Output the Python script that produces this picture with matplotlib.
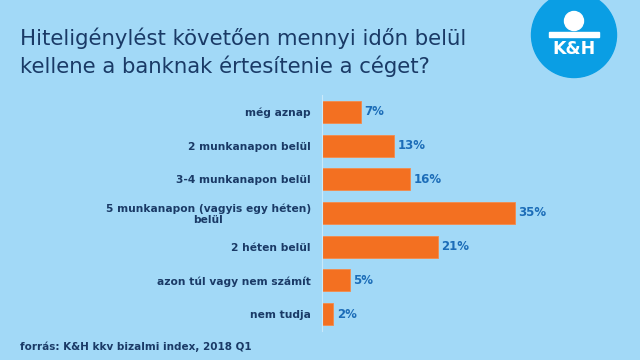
import matplotlib.pyplot as plt
from matplotlib.patches import Circle, Rectangle

categories = ['még aznap', '2 munkanapon belül', '3-4 munkanapon belül',
              '5 munkanapon (vagyis egy héten)\nbelül', '2 héten belül',
              'azon túl vagy nem számít', 'nem tudja']
values = [7, 13, 16, 35, 21, 5, 2]

bg = '#A2D9F7'
navy = '#1A3A66'
orange = '#F37021'
blue = '#1C6DB8'

W, H = 640, 360
fig = plt.figure(figsize=(6.4, 3.6), dpi=100, facecolor=bg)

# title
fig.text(20 / W, 1 - 38 / H, 'Hiteligénylést követően mennyi időn belül',
         fontsize=15.3, color=navy, va='center', ha='left')
fig.text(20 / W, 1 - 66 / H, 'kellene a banknak értesítenie a céget?',
         fontsize=15.3, color=navy, va='center', ha='left')

# logo
lax = fig.add_axes([0, 0, 1, 1], facecolor='none')
lax.set_xlim(0, W)
lax.set_ylim(H, 0)
lax.axis('off')
lax.add_patch(Circle((574, 35), 42.5, color='#0A9EE4', zorder=1))
lax.add_patch(Circle((574, 21), 9.5, color='white', zorder=2))
lax.add_patch(Rectangle((549, 32), 50, 5, color='white', zorder=2))
lax.text(574, 49, 'K&H', color='white', fontsize=12.5, fontweight='heavy',
         ha='center', va='center', zorder=3)

# bars
ax = fig.add_axes([322 / W, 1 - 331 / H, 220 / W, 236 / H], facecolor='none')
y = list(range(len(categories)))
ax.barh(y, values, height=0.65, color=orange, edgecolor='#F58A4A', linewidth=0.6)
ax.set_xlim(0, 40)
ax.set_ylim(len(categories) - 0.5, -0.5)
for s in ['top', 'right', 'bottom']:
    ax.spines[s].set_visible(False)
ax.spines['left'].set_color('#C9E9FA')
ax.spines['left'].set_linewidth(0.8)
ax.set_xticks([])
ax.set_yticks(y)
ax.set_yticklabels(categories, fontsize=7.7, fontweight='bold', color=navy,
                   linespacing=1.1, multialignment='center')
ax.tick_params(axis='y', length=0, pad=8)
for yi, v in zip(y, values):
    ax.text(v + 0.7, yi, f'{v}%', va='center', ha='left', fontsize=8.5,
            fontweight='bold', color=blue)

fig.text(20 / W, 1 - 347 / H, 'forrás: K&H kkv bizalmi index, 2018 Q1',
         fontsize=7.5, fontweight='bold', color=navy, va='center', ha='left')

fig.savefig('out.png', dpi=100, facecolor=bg)
